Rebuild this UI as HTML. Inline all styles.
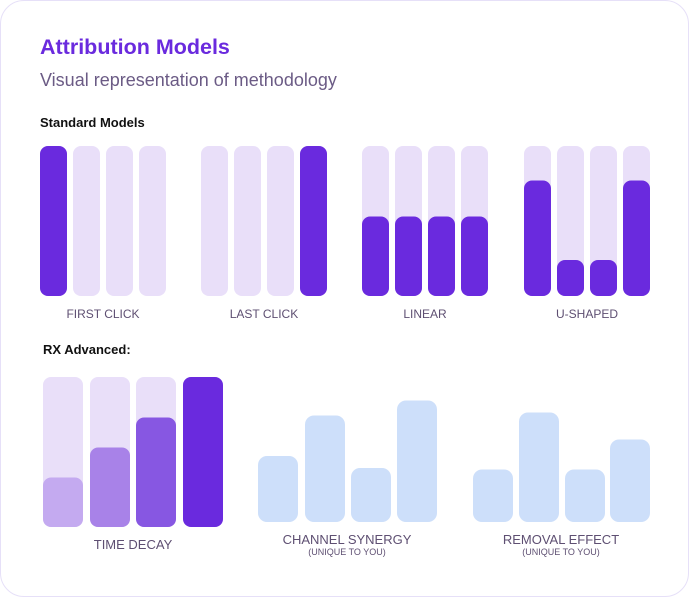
<!DOCTYPE html>
<html><head><meta charset="utf-8"><style>
html,body{margin:0;padding:0;background:#fff;}
body{width:690px;height:598px;overflow:hidden;font-family:"Liberation Sans",sans-serif;}
#card{position:absolute;left:0;top:0;width:687px;height:595px;border:1.5px solid #e6e0f8;border-radius:24px;background:#fff;}
.t{position:absolute;white-space:nowrap;}
</style></head><body>
<div id="card"></div>
<div class="t" style="left:40px;top:35px;font-size:21.5px;font-weight:bold;color:#6a2ade;">Attribution Models</div>
<div class="t" style="left:40px;top:70px;font-size:18px;color:#6b5b85;">Visual representation of methodology</div>
<div class="t" style="left:40px;top:115px;font-size:13px;font-weight:bold;color:#111;">Standard Models</div>
<div class="t" style="left:43px;top:342px;font-size:13px;font-weight:bold;color:#111;">RX Advanced:</div>
<svg id="chart" width="690" height="598" style="position:absolute;left:0;top:0"></svg>
<script>
// standard models: share of credit per touchpoint (0..1, 1 = full bar)
const stdModels = ["FIRST CLICK","LAST CLICK","LINEAR","U-SHAPED"];
const firstClick = [1,0,0,0];
const lastClick = [0,0,0,1];
const linear = [0.53,0.53,0.53,0.53];
const uShaped = [0.77,0.24,0.24,0.77];
// time decay fill fraction
const timeDecay = [0.33,0.53,0.73,1];
// channel synergy / removal effect heights (0..1 of 150px scale)
const advModels = ["TIME  DECAY","CHANNEL SYNERGY","REMOVAL EFFECT"];
const channelSynergy = [0.44,0.71,0.36,0.81];
const removalEffect = [0.35,0.73,0.35,0.55];

const svg = document.getElementById('chart');
const NS = 'http://www.w3.org/2000/svg';
function rect(x,y,w,h,r,fill,name){
  const e=document.createElementNS(NS,'rect');
  e.setAttribute('x',x);e.setAttribute('y',y);e.setAttribute('width',w);e.setAttribute('height',Math.max(0,h));
  e.setAttribute('rx',r);e.setAttribute('fill',fill);
  
  
  svg.appendChild(e);return e;
}
function text(x,y,s,size,name){
  const e=document.createElementNS(NS,'text');
  e.setAttribute('x',x);e.setAttribute('y',y);e.setAttribute('text-anchor','middle');
  e.setAttribute('font-size',size);e.setAttribute('fill','#5e4f72');
  e.setAttribute('font-family','Liberation Sans, sans-serif');
  e.textContent=s;
  
  
  svg.appendChild(e);
}
// standard
const stdTop=146, stdBot=296, stdH=stdBot-stdTop, bw=27, pitch=33;
const stdX=[40,201,362,524];
const stdData=[firstClick,lastClick,linear,uShaped];
function yStd(v){return stdBot - v*stdH;}
stdData.forEach((arr,g)=>{
  arr.forEach((v,i)=>{
    const x=stdX[g]+i*pitch;
    rect(x,stdTop,bw,stdH,8,'#e9dff9','bar-track');
    if(v>0) rect(x,yStd(v),bw,stdBot-yStd(v),8,'#6a2ade','bar-fill');
  });
  text(stdX[g]+ (3*pitch+bw)/2, 318, stdModels[g], 12, 'model-label');
});
// time decay
const advTop=377, advBot=527, advH=advBot-advTop;
const tdX=[43,90,136,183], tdW=40, tdColors=['#c4aaf0','#a882e8','#8757e2','#6a2ade'];
function yAdv(v){return advBot - v*advH;}
timeDecay.forEach((v,i)=>{
  rect(tdX[i],advTop,tdW,advH,8,'#e9dff9','time-decay-track');
  rect(tdX[i],yAdv(v),tdW,advBot-yAdv(v),8,tdColors[i],'time-decay-fill');
});
text(133,549,advModels[0],13,'time-decay-label');
const csBot=522, csH=150;
function yCs(v){return csBot - v*csH;}
const csX=[258,305,351,397], reX=[473,519,565,610];
channelSynergy.forEach((v,i)=>rect(csX[i],yCs(v),40,csBot-yCs(v),9,'#cddffa','channel-synergy-bar'));
removalEffect.forEach((v,i)=>rect(reX[i],yCs(v),40,csBot-yCs(v),9,'#cddffa','removal-effect-bar'));
text(347,544,advModels[1],13,'channel-synergy-label');
text(347,555,'(UNIQUE TO YOU)',9,'channel-synergy-sublabel');
text(561,544,advModels[2],13,'removal-effect-label');
text(561,555,'(UNIQUE TO YOU)',9,'removal-effect-sublabel');
</script>
</body></html>
